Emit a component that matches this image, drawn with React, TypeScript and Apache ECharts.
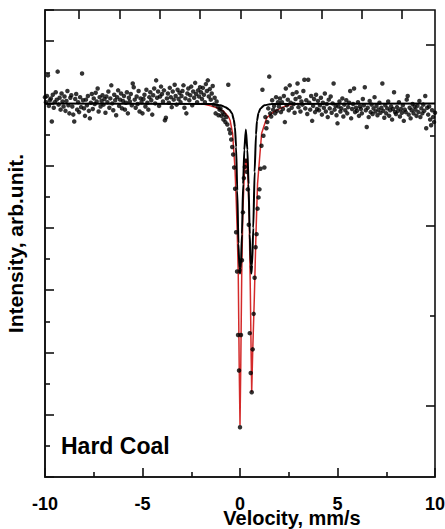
import React, { useEffect, useRef } from "react";
import * as echarts from "echarts";

// Channel grid of the spectrum (mm/s)
const velocityStart = -10;
const velocityStep = 0.05;

// Measured intensities, one per channel (arb. units, baseline ≈ 6)
const intensity = [
  6.10, 6.02, 6.12, 6.45, 5.96, 6.05, 6.08, 5.71, 6.14, 5.93, 6.02, 6.18, 6.06, 6.51, 5.98, 6.09, 5.90, 6.16, 6.03, 5.95,
  6.11, 5.88, 6.04, 6.20, 5.97, 5.84, 6.09, 6.13, 5.95, 5.82, 5.71, 6.07, 6.15, 5.90, 6.02, 5.86, 6.10, 5.94, 6.48, 6.05,
  5.92, 5.80, 6.06, 5.97, 6.12, 5.88, 5.76, 6.01, 6.15, 5.91, 6.08, 5.99, 6.17, 6.03, 6.24, 5.87, 6.10, 5.95, 6.04, 6.13,
  5.98, 6.07, 5.85, 6.11, 6.02, 6.19, 5.93, 6.08, 6.29, 6.00, 5.89, 6.14, 6.05, 5.81, 6.10, 6.21, 5.96, 6.06, 6.16, 5.92,
  6.04, 6.12, 5.90, 6.01, 6.18, 5.84, 6.09, 6.03, 6.15, 5.97, 6.32, 6.26, 6.06, 5.93, 6.11, 5.99, 6.20, 5.87, 6.08, 6.02,
  5.84, 6.07, 6.14, 5.95, 6.22, 6.01, 5.90, 6.10, 6.18, 6.05, 5.82, 6.13, 6.24, 6.00, 6.37, 6.09, 6.19, 5.96, 6.11, 6.27,
  6.15, 6.03, 6.21, 5.73, 5.77, 6.08, 6.16, 6.01, 6.25, 6.10, 5.94, 6.19, 6.06, 6.30, 6.12, 5.98, 6.22, 6.07, 6.17, 6.02,
  6.12, 6.20, 6.29, 5.93, 6.08, 5.84, 6.16, 6.24, 6.05, 6.13, 6.27, 5.97, 6.19, 6.09, 6.33, 6.15, 6.02, 6.21, 6.11, 6.26,
  6.18, 6.07, 6.25, 6.14, 6.02, 6.31, 6.20, 6.37, 6.11, 6.23, 6.06, 6.16, 6.28, 5.98, 6.09, 5.84, 6.03, 5.95, 5.81, 5.90,
  5.92, 5.80, 5.86, 5.74, 5.82, 5.70, 5.78, 5.66, 6.30, 5.58, 5.52, 5.42, 5.30, 5.18, 4.97, 4.63, 3.93, 3.30, 2.28, 1.71,
  0.80, 2.28, 3.48, 4.25, 4.80, 4.98, 5.08, 4.90, 4.62, 4.05, 2.31, 1.67, 1.36, 2.05, 2.62, 3.20, 3.69, 3.90, 4.31, 4.49,
  4.62, 4.95, 5.32, 6.22, 5.48, 4.97, 5.78, 5.60, 5.70, 5.92, 6.43, 5.84, 5.79, 6.05, 5.90, 5.96, 5.84, 6.10, 5.88, 6.02,
  5.95, 6.08, 5.86, 6.02, 5.91, 6.12, 5.70, 6.24, 5.97, 6.06, 5.89, 6.29, 6.01, 5.93, 6.15, 5.99, 5.85, 6.07, 6.18, 6.32,
  5.94, 6.10, 5.87, 6.03, 5.98, 6.20, 6.38, 5.92, 6.05, 5.83, 6.38, 6.01, 5.90, 6.12, 5.72, 5.96, 6.07, 5.86, 6.14, 5.91,
  6.04, 5.89, 5.97, 6.09, 5.82, 6.01, 5.93, 6.16, 5.87, 5.99, 5.78, 6.06, 5.92, 6.11, 5.85, 6.00, 6.32, 5.90, 5.96, 5.81,
  5.68, 5.95, 6.03, 5.87, 5.92, 6.08, 5.79, 5.98, 5.89, 6.05, 5.84, 5.94, 6.01, 6.20, 5.76, 5.91, 5.99, 6.24, 5.86, 5.93,
  5.88, 6.02, 5.80, 5.95, 5.91, 5.84, 6.07, 5.97, 6.26, 5.89, 5.62, 5.93, 5.78, 6.04, 5.86, 5.98, 5.83, 5.92, 6.10, 5.87,
  5.96, 5.81, 5.90, 6.01, 5.85, 5.93, 6.32, 5.88, 5.77, 5.97, 5.84, 5.92, 6.03, 5.80, 5.89, 5.95, 5.74, 5.91, 6.18, 5.86,
  5.83, 5.94, 5.88, 6.02, 5.79, 5.91, 5.85, 5.97, 5.72, 5.90, 5.86, 6.06, 6.12, 5.82, 5.93, 5.76, 5.89, 5.99, 5.84, 5.95,
  5.90, 5.80, 5.96, 5.86, 6.04, 5.78, 5.92, 5.84, 5.98, 5.88, 6.12, 5.60, 5.93, 5.82, 5.95, 5.74, 5.65, 5.89, 5.78, 5.70,
  5.85,
];

// Total fit (black)
const fitTotalVelocity = [
  -10, -1.4, -1.0, -0.75, -0.55, -0.41, -0.32, -0.26, -0.2, -0.14, -0.08, -0.03, 0.0, 0.04, 0.1, 0.16, 0.22, 0.3, 0.38,
  0.44, 0.5, 0.55, 0.58, 0.62, 0.68, 0.75, 0.82, 0.87, 0.95, 1.05, 1.25, 1.6, 10,
];
const fitTotalIntensity = [
  6.0, 5.99, 5.97, 5.94, 5.9, 5.84, 5.74, 5.62, 5.3, 4.6, 3.75, 3.35, 3.27, 3.35, 3.9, 4.7, 5.25, 5.58, 5.25,
  4.7, 3.9, 3.4, 3.27, 3.4, 4.0, 4.9, 5.5, 5.72, 5.85, 5.92, 5.97, 5.99, 6.0,
];

// Doublet component (red)
const doubletVelocity = [
  -2.0, -1.5, -1.2, -0.87, -0.6, -0.51, -0.38, -0.26, -0.2, -0.14, -0.09, -0.04, 0.0, 0.04, 0.09, 0.15, 0.22, 0.31,
  0.4, 0.47, 0.53, 0.57, 0.6, 0.65, 0.73, 0.82, 0.9, 1.0, 1.11, 1.37, 1.7, 2.2, 2.6, 3.0,
];
const doubletIntensity = [
  6.0, 5.96, 5.93, 5.88, 5.79, 5.73, 5.52, 4.97, 4.5, 3.91, 3.27, 1.76, 0.83, 1.8, 3.3, 4.3, 4.85, 5.11,
  4.85, 4.2, 3.0, 2.0, 1.36, 2.0, 2.83, 3.91, 4.71, 5.1, 5.52, 5.77, 5.86, 5.94, 5.98, 6.0,
];

// Secondary scales of the frame (channel scale on top, transmission scale on the right)
const topScaleTicks = [0, 8];      // first and last top tick, one unit per tick
const rightScaleTicks = [0, 2];    // first and last right major tick

const FONT = "'Liberation Sans', Arial, Helvetica, sans-serif";
const INK = "#111";

export default function App() {
  const ref = useRef<HTMLDivElement>(null);

  useEffect(() => {
    if (!ref.current) return;
    const chart = echarts.init(ref.current, undefined, { renderer: "svg" });

    const points = intensity.map((v, i) => [velocityStart + i * velocityStep, v]);
    const total = fitTotalVelocity.map((x, i) => [x, fitTotalIntensity[i]]);
    const doublet = doubletVelocity.map((x, i) => [x, doubletIntensity[i]]);

    const line = { show: true, onZero: false, lineStyle: { color: INK, width: 1.6 } };
    const tickStyle = { color: INK, width: 1.6 };

    chart.setOption({
      animation: false,
      backgroundColor: "#fff",
      grid: [
        {
          left: 45, right: 10, top: 10, bottom: 52,
          show: true, borderColor: INK, borderWidth: 1.6, backgroundColor: "transparent",
          outerBoundsMode: "none", containLabel: false,
        },
        { left: 79, right: 43, top: 10, bottom: 52, outerBoundsMode: "none", containLabel: false },
        { left: 45, right: 10, top: 45, bottom: 123, outerBoundsMode: "none", containLabel: false },
      ],
      xAxis: [
        {
          type: "value",
          gridIndex: 0,
          position: "bottom",
          min: -10,
          max: 10,
          interval: 5,
          axisLine: line,
          axisTick: { show: true, inside: true, length: 9, lineStyle: tickStyle },
          minorTick: { show: true, splitNumber: 2, length: 5, lineStyle: tickStyle },
          axisLabel: {
            color: "#000", fontSize: 18, fontWeight: "bold", fontFamily: FONT, margin: 20, lineHeight: 13,
          },
          splitLine: { show: false },
          minorSplitLine: { show: false },
          name: "Velocity, mm/s",
          nameLocation: "middle",
          nameGap: 33,
          nameMoveOverlap: false,
          nameTextStyle: {
            color: "#000",
            fontSize: 20,
            fontWeight: "bold",
            fontFamily: FONT,
            lineHeight: 16,
            padding: [0, 0, 0, 104],
          },
        },
        {
          type: "value",
          gridIndex: 1,
          position: "top",
          min: topScaleTicks[0],
          max: topScaleTicks[1],
          interval: 1,
          axisLine: { show: false, onZero: false },
          axisTick: { show: true, inside: true, length: 9, lineStyle: tickStyle },
          axisLabel: { show: false },
          splitLine: { show: false },
        },
        { type: "value", gridIndex: 2, show: false, min: 0, max: 1 },
      ],
      yAxis: [
        {
          type: "value",
          gridIndex: 0,
          position: "left",
          min: 0,
          max: 7.5,
          interval: 1,
          axisLine: line,
          axisTick: { show: true, inside: true, length: 9, lineStyle: tickStyle },
          minorTick: { show: true, splitNumber: 2, length: 5, lineStyle: tickStyle },
          axisLabel: { show: false },
          splitLine: { show: false },
          minorSplitLine: { show: false },
          name: "Intensity, arb.unit.",
          nameLocation: "middle",
          nameGap: 19,
          nameTextStyle: { color: "#000", fontSize: 21, fontWeight: "bold", fontFamily: FONT },
        },
        { type: "value", gridIndex: 1, show: false, min: 0, max: 1 },
        {
          type: "value",
          gridIndex: 2,
          position: "right",
          min: rightScaleTicks[0],
          max: rightScaleTicks[1],
          interval: 1,
          axisLine: { show: false, onZero: false },
          axisTick: { show: true, inside: true, length: 9, lineStyle: tickStyle },
          minorTick: { show: true, splitNumber: 2, length: 5, lineStyle: tickStyle },
          axisLabel: { show: false },
          splitLine: { show: false },
          minorSplitLine: { show: false },
        },
      ],
      series: [
        {
          name: "Doublet",
          type: "line",
          xAxisIndex: 0,
          yAxisIndex: 0,
          data: doublet,
          showSymbol: false,
          lineStyle: { color: "#d42a2a", width: 1.5 },
          z: 2,
        },
        {
          name: "Total fit",
          type: "line",
          xAxisIndex: 0,
          yAxisIndex: 0,
          data: total,
          showSymbol: false,
          smooth: 0.2,
          smoothMonotone: "x",
          lineStyle: { color: "#000", width: 2 },
          z: 3,
        },
        {
          name: "Experiment",
          type: "scatter",
          xAxisIndex: 0,
          yAxisIndex: 0,
          data: points,
          symbol: "circle",
          symbolSize: 4.5,
          itemStyle: { color: "#000" },
          z: 4,
        },
      ],
      graphic: [
        {
          type: "text",
          x: 61,
          y: 446,
          style: {
            text: "Hard Coal",
            fontSize: 23,
            fontWeight: "bold",
            fontFamily: FONT,
            fill: "#000",
            verticalAlign: "middle",
          },
        },
      ],
    });

    return () => chart.dispose();
  }, []);

  return (
    <div
      ref={ref}
      style={{ position: "fixed", left: 0, top: 0, width: 445, height: 529, background: "#fff" }}
    />
  );
}
